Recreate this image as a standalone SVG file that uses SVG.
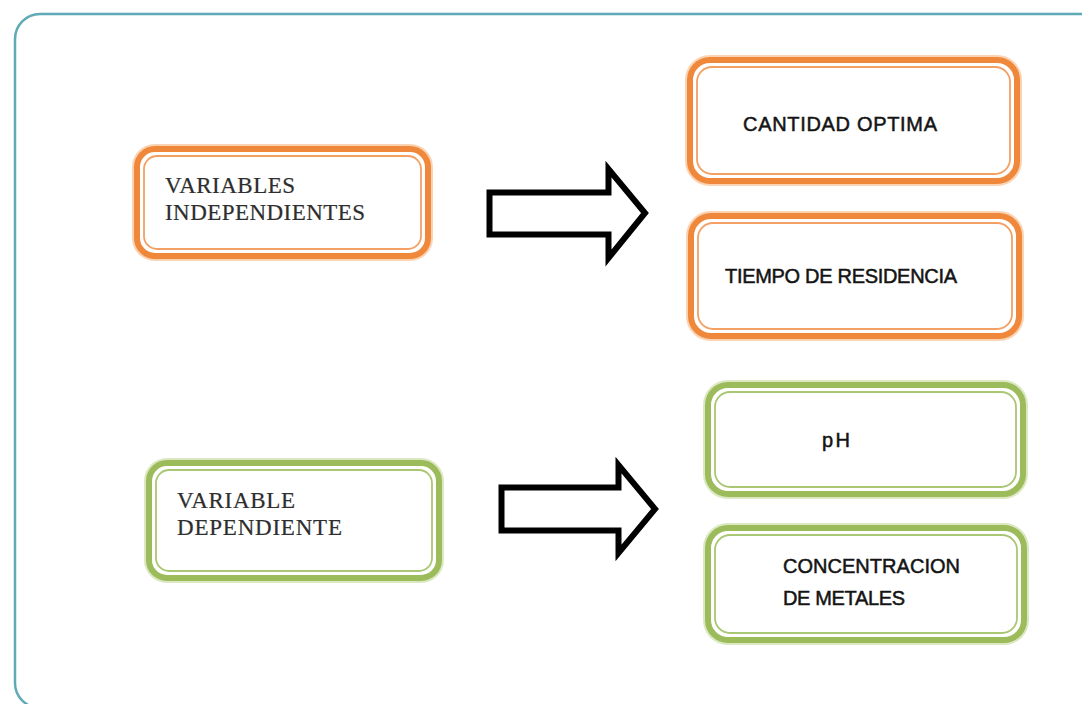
<svg xmlns="http://www.w3.org/2000/svg" width="1082" height="704" viewBox="0 0 1082 704">
<style>
.frame{fill:#ffffff;stroke:#5eaab6;stroke-width:2.5}
.halo-o{fill:none;stroke:#fbd3b2;stroke-width:10}
.out-o{fill:#ffffff;stroke:#f0883c;stroke-width:6}
.in-o{fill:none;stroke:#f3a064;stroke-width:1.8}
.halo-g{fill:none;stroke:#dbe8c2;stroke-width:10}
.out-g{fill:#ffffff;stroke:#9cbb5a;stroke-width:6}
.in-g{fill:none;stroke:#a9c772;stroke-width:1.8}
.serif{font-family:"Liberation Serif","Times New Roman",serif;font-size:23px;fill:#2e2e2e;stroke:#2e2e2e;stroke-width:0.2}
.sans{font-family:"Liberation Sans",Arial,sans-serif;font-size:20px;fill:#141414;stroke:#141414;stroke-width:0.5}
.arrow{fill:#ffffff;stroke:#000000;stroke-width:6;stroke-linejoin:miter;stroke-miterlimit:10}
</style>
<rect x="0" y="0" width="1082" height="704" fill="#ffffff"/>
<rect class="frame" x="15" y="14" width="1110" height="694" rx="25" ry="25"/>

<g id="n-independientes">
<rect class="halo-o" x="137" y="149" width="291" height="107" rx="18"/>
<rect class="out-o" x="137" y="149" width="291" height="107" rx="18"/>
<rect class="in-o" x="144" y="156" width="277" height="93" rx="13"/>
<text class="serif" x="165" y="193" textLength="130">VARIABLES</text>
<text class="serif" x="165" y="220" textLength="200">INDEPENDIENTES</text>
</g>

<g id="n-cantidad">
<rect class="halo-o" x="690" y="60" width="327" height="121" rx="20"/>
<rect class="out-o" x="690" y="60" width="327" height="121" rx="20"/>
<rect class="in-o" x="697" y="67" width="313" height="107" rx="15"/>
<text class="sans" x="743" y="131" textLength="194">CANTIDAD OPTIMA</text>
</g>

<g id="n-tiempo">
<rect class="halo-o" x="691" y="216" width="328" height="120" rx="20"/>
<rect class="out-o" x="691" y="216" width="328" height="120" rx="20"/>
<rect class="in-o" x="698" y="223" width="314" height="106" rx="15"/>
<text class="sans" x="725" y="283" textLength="232">TIEMPO DE RESIDENCIA</text>
</g>

<g id="n-dependiente">
<rect class="halo-g" x="149" y="463" width="290" height="115" rx="18"/>
<rect class="out-g" x="149" y="463" width="290" height="115" rx="18"/>
<rect class="in-g" x="156" y="470" width="276" height="101" rx="13"/>
<text class="serif" x="177" y="508" textLength="118">VARIABLE</text>
<text class="serif" x="177" y="535" textLength="165">DEPENDIENTE</text>
</g>

<g id="n-ph">
<rect class="halo-g" x="708" y="385" width="315" height="109" rx="20"/>
<rect class="out-g" x="708" y="385" width="315" height="109" rx="20"/>
<rect class="in-g" x="715" y="392" width="301" height="95" rx="15"/>
<text class="sans" x="822" y="447" textLength="28">pH</text>
</g>

<g id="n-concentracion">
<rect class="halo-g" x="708" y="528" width="316" height="112" rx="20"/>
<rect class="out-g" x="708" y="528" width="316" height="112" rx="20"/>
<rect class="in-g" x="715" y="535" width="302" height="98" rx="15"/>
<text class="sans" x="783" y="573" textLength="177">CONCENTRACION</text>
<text class="sans" x="783" y="605" textLength="122">DE METALES</text>
</g>

<g id="connectors">
<polygon class="arrow" points="489.5,192.5 608.5,192.5 608.5,169 645,213 608.5,258 608.5,234.5 489.5,234.5"/>
<polygon class="arrow" points="501.5,487.5 618.5,487.5 618.5,465 655,509 618.5,553 618.5,530.5 501.5,530.5"/>
</g>
</svg>
